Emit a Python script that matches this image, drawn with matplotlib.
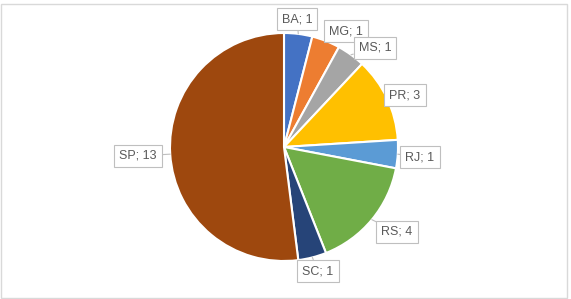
import numpy as np
import matplotlib
matplotlib.use("Agg")
import matplotlib.pyplot as plt
from matplotlib.patches import Rectangle

estados = ["BA", "MG", "MS", "PR", "RJ", "RS", "SC", "SP"]
valores = [1, 1, 1, 3, 1, 4, 1, 13]
cores = ["#4472C4", "#ED7D31", "#A5A5A5", "#FFC000", "#5B9BD5", "#70AD47", "#264478", "#9E480E"]

# posicao dos rotulos em pixels (x, y a partir do topo)
pos_rotulos = [(297, 19), (346, 31), (375, 48), (405, 95), (420, 157), (397, 232), (318, 271), (138, 156)]

W, H = 571, 299
fig = plt.figure(figsize=(W / 100, H / 100), dpi=100)
ax = fig.add_axes([(284 - 114) / W, (H - 147 - 114) / H, 228 / W, 228 / H])

wedges, _ = ax.pie(valores, colors=cores, startangle=90, counterclock=False,
                   wedgeprops=dict(edgecolor="white", linewidth=1.5))
ax.set_xlim(-1, 1)
ax.set_ylim(-1, 1)
ax.set_aspect("equal")

for w, nome, v, (px, py) in zip(wedges, estados, valores, pos_rotulos):
    ang = np.deg2rad((w.theta1 + w.theta2) / 2)
    xy = (np.cos(ang) * 1.0, np.sin(ang) * 1.0)
    ax.annotate(f"{nome}; {v}", xy=xy, xycoords="data",
                xytext=(px / W, 1 - py / H), textcoords="figure fraction",
                ha="center", va="center", fontsize=9, color="#595959",
                family="Liberation Sans",
                bbox=dict(boxstyle="square,pad=0.4", fc="white", ec="#bfbfbf", lw=0.8),
                arrowprops=dict(arrowstyle="-", color="#bfbfbf", lw=0.8,
                                shrinkA=0, shrinkB=0))

fig.patches.append(Rectangle((0.5 / W, 1.5 / H), (W - 5) / W, (H - 5) / H,
                             transform=fig.transFigure, fill=False,
                             edgecolor="#d9d9d9", lw=1))

fig.savefig("out.png", dpi=100)
